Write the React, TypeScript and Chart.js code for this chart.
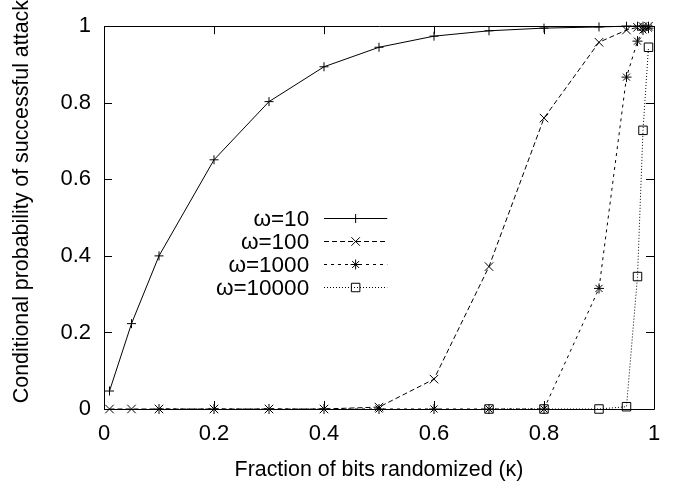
import React, { useEffect, useRef } from 'react';
import { Chart, registerables } from 'chart.js';
import { drawPoint } from 'chart.js/helpers';

Chart.register(...registerables);

// ---- data ----
const kappa = [0.01, 0.05, 0.1, 0.2, 0.3, 0.4, 0.5, 0.6, 0.7, 0.8, 0.9, 0.95, 0.97, 0.98, 0.99];
const w10 = [0.047, 0.223, 0.4, 0.651, 0.803, 0.894, 0.945, 0.974, 0.988, 0.995, 0.998, 1, 1, 1, 1];
const w100 = [0, 0, 0, 0, 0, 0, 0.005, 0.078, 0.372, 0.76, 0.958, 0.99, 0.997, 0.999, 1];
const kappa1000 = [0.1, 0.2, 0.3, 0.4, 0.5, 0.6, 0.7, 0.8, 0.9, 0.95, 0.97, 0.98, 0.99];
const w1000 = [0, 0, 0, 0, 0, 0, 0, 0, 0.315, 0.867, 0.961, 0.99, 0.995];
const kappa10000 = [0.7, 0.8, 0.9, 0.95, 0.97, 0.98, 0.99];
const w10000 = [0, 0, 0, 0.006, 0.346, 0.728, 0.945];

const seriesLabels = ['ω=10', 'ω=100', 'ω=1000', 'ω=10000'];
const axisTicks = [0, 0.2, 0.4, 0.6, 0.8, 1];
const xTitle = 'Fraction of bits randomized (κ)';
const yTitle = 'Conditional probability of successful attack';

const FONT = '"Liberation Sans", Arial, Helvetica, sans-serif';
const TICK_FS = 22;
const TITLE_FS = 21.4;
const LEGEND_FS = 22.5;

const toPts = (xs: number[], ys: number[]) => xs.map((x, i) => ({ x, y: ys[i] }));

const framePlugin = {
  id: 'gnuframe',
  beforeDatasetsDraw(chart: any) {
    const { ctx, chartArea: a, scales } = chart;
    ctx.save();
    ctx.strokeStyle = '#000';
    ctx.lineWidth = 1;
    ctx.beginPath();
    ctx.rect(Math.round(a.left) + 0.5, Math.round(a.top) + 0.5, Math.round(a.right - a.left), Math.round(a.bottom - a.top));
    ctx.stroke();
    const L = 8;
    ctx.beginPath();
    for (const t of axisTicks) {
      const px = Math.round(scales.x.getPixelForValue(t)) + 0.5;
      ctx.moveTo(px, a.bottom); ctx.lineTo(px, a.bottom - L);
      ctx.moveTo(px, a.top); ctx.lineTo(px, a.top + L);
      const py = Math.round(scales.y.getPixelForValue(t)) + 0.5;
      ctx.moveTo(a.left, py); ctx.lineTo(a.left + L, py);
      ctx.moveTo(a.right, py); ctx.lineTo(a.right - L, py);
    }
    ctx.stroke();
    // y title
    ctx.fillStyle = '#000';
    ctx.font = `${TITLE_FS}px ${FONT}`;
    ctx.textAlign = 'center';
    ctx.textBaseline = 'middle';
    ctx.translate(22, (a.top + a.bottom) / 2 - 16);
    ctx.rotate(-Math.PI / 2);
    ctx.fillText(yTitle, 0, 0);
    ctx.restore();
  },
  afterDatasetsDraw(chart: any) {
    const { ctx, scales } = chart;
    const textRight = scales.x.getPixelForValue(0.373);
    const lineStart = scales.x.getPixelForValue(0.4);
    const lineEnd = scales.x.getPixelForValue(0.515);
    const y0 = scales.y.getPixelForValue(0.5);
    const rowH = 23;
    ctx.save();
    chart.data.datasets.forEach((ds: any, i: number) => {
      const y = Math.round(y0 + i * rowH) + 0.5;
      ctx.fillStyle = '#000';
      ctx.font = `${LEGEND_FS}px ${FONT}`;
      ctx.textAlign = 'right';
      ctx.textBaseline = 'middle';
      ctx.fillText(ds.label, textRight, y + 1);
      ctx.strokeStyle = '#000';
      ctx.lineWidth = 1;
      ctx.setLineDash(ds.borderDash || []);
      ctx.beginPath();
      ctx.moveTo(lineStart, y);
      ctx.lineTo(lineEnd, y);
      ctx.stroke();
      ctx.setLineDash([]);
      ctx.fillStyle = 'rgba(0,0,0,0)';
      drawPoint(ctx, { pointStyle: ds.pointStyle, radius: ds.pointRadius, rotation: 0, borderWidth: 1 }, (lineStart + lineEnd) / 2, y);
    });
    ctx.restore();
  },
};

export default function App() {
  const ref = useRef<HTMLCanvasElement>(null);
  useEffect(() => {
    if (!ref.current) return;
    const common = {
      borderColor: '#000',
      pointBorderColor: '#000',
      pointBackgroundColor: 'rgba(0,0,0,0)',
      borderWidth: 1,
      pointBorderWidth: 1,
      showLine: true,
      fill: false,
      tension: 0,
      clip: false as any,
    };
    const chart = new Chart(ref.current, {
      type: 'scatter',
      data: {
        datasets: [
          { ...common, label: seriesLabels[0], data: toPts(kappa, w10), pointStyle: 'cross', pointRadius: 4.5, borderDash: [] },
          { ...common, label: seriesLabels[1], data: toPts(kappa, w100), pointStyle: 'crossRot', pointRadius: 6, borderDash: [5, 3] },
          { ...common, label: seriesLabels[2], data: toPts(kappa1000, w1000), pointStyle: 'star', pointRadius: 5, borderDash: [3, 4] },
          { ...common, label: seriesLabels[3], data: toPts(kappa10000, w10000), pointStyle: 'rect', pointRadius: 6, borderDash: [1, 2] },
        ] as any,
      },
      options: {
        responsive: false,
        animation: false,
        devicePixelRatio: 1,
        layout: { padding: { top: 25, right: 29, left: 0, bottom: 0 } },
        plugins: { legend: { display: false }, tooltip: { enabled: false } },
        scales: {
          x: {
            type: 'linear',
            min: 0,
            max: 1,
            afterFit: (s: any) => { s.height = 78; },
            afterBuildTicks: (s: any) => { s.ticks = axisTicks.map((v) => ({ value: v })); },
            grid: { display: false, drawTicks: false },
            border: { display: false },
            ticks: {
              padding: 12,
              color: '#000',
              font: { family: FONT, size: TICK_FS },
              maxRotation: 0,
              callback: (v: any) => String(Math.round(Number(v) * 10) / 10),
            },
            title: { display: true, text: xTitle, color: '#000', font: { family: FONT, size: TITLE_FS }, padding: { top: 0, bottom: 4 } },
          },
          y: {
            type: 'linear',
            min: 0,
            max: 1,
            afterFit: (s: any) => { s.width = 104; },
            afterBuildTicks: (s: any) => { s.ticks = axisTicks.map((v) => ({ value: v })); },
            grid: { display: false, drawTicks: false },
            border: { display: false },
            ticks: {
              padding: 13,
              color: '#000',
              font: { family: FONT, size: TICK_FS },
              callback: (v: any) => String(Math.round(Number(v) * 10) / 10),
            },
          },
        },
      },
      plugins: [framePlugin],
    });
    return () => chart.destroy();
  }, []);
  return (
    <div style={{ position: 'fixed', left: 0, top: 0, width: 683, height: 487, background: '#fff' }}>
      <canvas ref={ref} width={683} height={487} style={{ width: 683, height: 487, display: 'block' }} />
    </div>
  );
}
